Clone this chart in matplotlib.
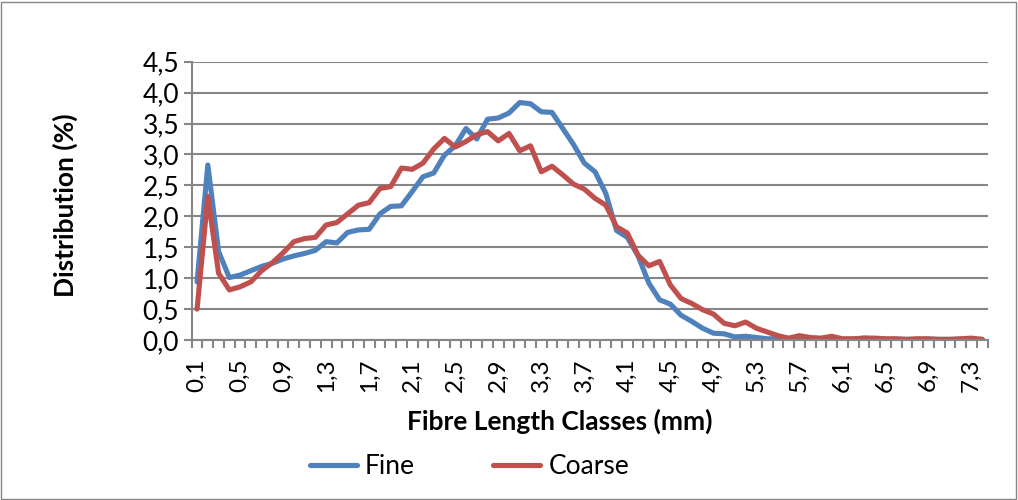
import numpy as np
import matplotlib
matplotlib.use('Agg')
import matplotlib.pyplot as plt
from matplotlib.patches import Rectangle

# fibre length classes (mm) and distribution (%) per class
classes = np.round(np.arange(0.1, 7.45, 0.1), 1)
fine = [0.94, 2.83, 1.43, 1.01, 1.05, 1.12, 1.19, 1.24, 1.31, 1.36,
        1.40, 1.45, 1.59, 1.57, 1.74, 1.78, 1.79, 2.04, 2.16, 2.17,
        2.40, 2.64, 2.70, 2.99, 3.14, 3.42, 3.25, 3.57, 3.59, 3.67,
        3.84, 3.82, 3.69, 3.68, 3.42, 3.16, 2.86, 2.72, 2.37, 1.77,
        1.66, 1.36, 0.92, 0.65, 0.58, 0.40, 0.30, 0.19, 0.11, 0.10,
        0.05, 0.06, 0.04, 0.02, 0.02, 0.01, 0.02, 0.01, 0.01, 0.02,
        0.01, 0.01, 0.03, 0.02, 0.01, 0.01, 0.01, 0.01, 0.01, 0.01,
        0.01, 0.01, 0.01, 0.01]
coarse = [0.50, 2.32, 1.08, 0.81, 0.86, 0.94, 1.12, 1.25, 1.41, 1.59,
          1.64, 1.66, 1.86, 1.90, 2.04, 2.18, 2.22, 2.45, 2.48, 2.78,
          2.76, 2.86, 3.09, 3.26, 3.12, 3.21, 3.32, 3.37, 3.22, 3.34,
          3.06, 3.14, 2.72, 2.81, 2.67, 2.52, 2.44, 2.29, 2.18, 1.83,
          1.73, 1.37, 1.20, 1.27, 0.89, 0.67, 0.59, 0.49, 0.42, 0.27,
          0.23, 0.29, 0.19, 0.13, 0.07, 0.03, 0.07, 0.04, 0.03, 0.06,
          0.02, 0.02, 0.03, 0.03, 0.02, 0.02, 0.01, 0.02, 0.02, 0.01,
          0.01, 0.02, 0.03, 0.01]

plt.rcParams['font.family'] = ['Lato', 'DejaVu Sans']
plt.rcParams['font.size'] = 19

grey = '#868686'

fig = plt.figure(figsize=(10.18, 5.0), dpi=100)
ax = fig.add_axes([0.1883, 0.32, 0.7819, 0.5566])

x = np.arange(len(classes))
ax.plot(x, fine, color='#4F81BD', lw=3.7, solid_joinstyle='round', solid_capstyle='round', label='Fine')
ax.plot(x, coarse, color='#C0504D', lw=3.7, solid_joinstyle='round', solid_capstyle='round', label='Coarse')

ax.set_xlim(-0.5, len(classes) - 0.5)
ax.set_ylim(0, 4.5)

yt = np.arange(0, 4.51, 0.5)
ax.set_yticks(yt)
ax.set_yticklabels([f'{v:.1f}'.replace('.', ',') for v in yt])
ax.yaxis.grid(True, color=grey, lw=1.5)
ax.set_axisbelow(True)

# category labels every 0.4 mm, tick marks between every class
ax.set_xticks(x[::4])
ax.set_xticklabels([f'{v:.1f}'.replace('.', ',') for v in classes[::4]], rotation=90, fontsize=17.5)
ax.set_xticks(np.arange(-0.5, len(classes)), minor=True)
ax.tick_params(axis='x', which='major', length=0, pad=13)
ax.tick_params(axis='x', which='minor', length=6, width=1.5, color=grey, direction='out')
ax.tick_params(axis='y', length=6, width=1.5, color=grey, direction='out', pad=3)

for s in ['top', 'right']:
    ax.spines[s].set_visible(False)
for s in ['left', 'bottom']:
    ax.spines[s].set_color(grey)
    ax.spines[s].set_linewidth(1.5)

fig.text(559.5 / 1018, 1 - 421 / 500, 'Fibre Length Classes (mm)', fontweight='bold',
         ha='center', va='center')
fig.text(65 / 1018, 1 - 205 / 500, 'Distribution (%)', fontweight='bold',
         rotation=90, ha='center', va='center')

fig.legend(loc='center', bbox_to_anchor=(0.461, 0.066), ncol=2, frameon=False,
           handlelength=1.8, handletextpad=0.3, columnspacing=2.95)

fig.add_artist(Rectangle((0.001, 0.003), 0.997, 0.993, transform=fig.transFigure,
                         fill=False, ec=grey, lw=1))

fig.savefig('out.png', dpi=100)
